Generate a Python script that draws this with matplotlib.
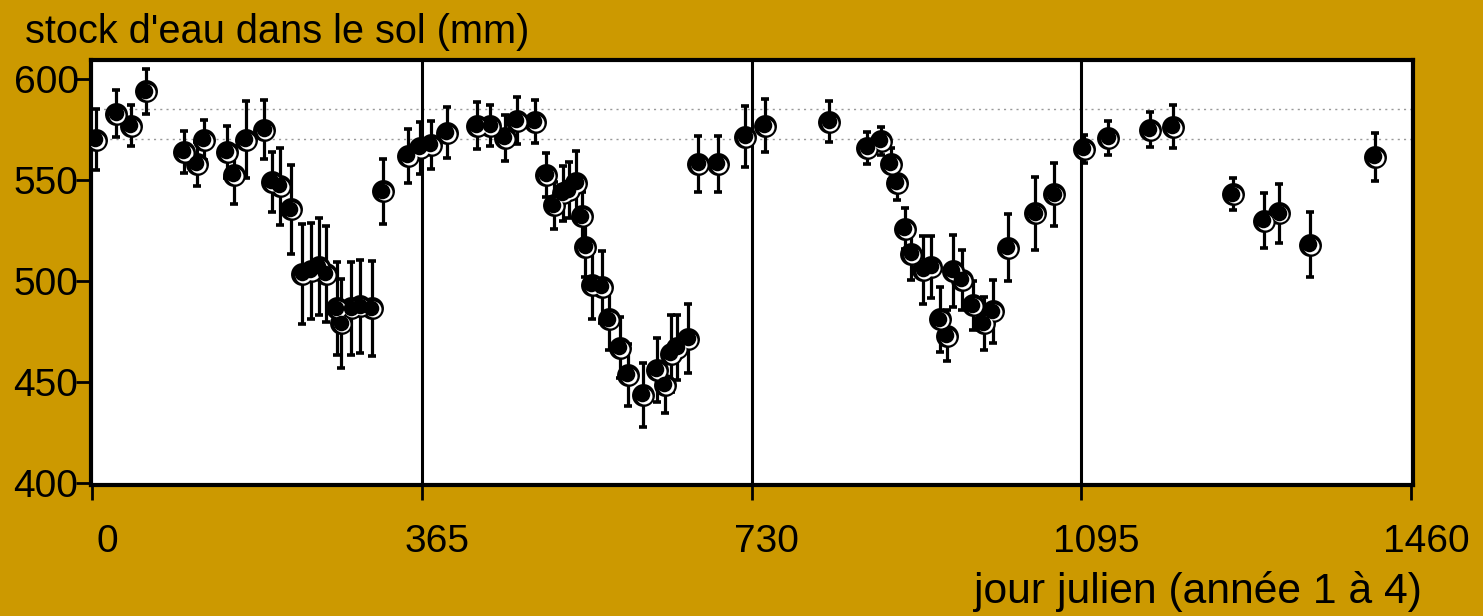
"""
Stock d'eau dans le sol sur quatre années (jour julien 0 à 1460).
"""

import matplotlib

matplotlib.use("Agg")
import matplotlib.pyplot as plt
import matplotlib.transforms as mtransforms

plt.rcParams["font.family"] = ["Liberation Sans", "DejaVu Sans"]

BG = "#cc9900"

# jour julien cumulé (années 1 à 4)
days = [
    4, 27, 43, 60, 102, 116, 124, 149, 157, 170, 191, 199, 208, 220, 233,
    242, 251, 259, 271, 276, 287, 297, 310, 322, 350, 363, 375, 393,
    426, 441, 457, 470, 490, 503, 511, 521, 528, 536, 542, 546, 553, 564,
    572, 584, 593, 610, 625, 634, 641, 648, 660, 671, 693, 723,
    745, 816, 858, 873, 884, 891, 900, 907, 920, 929, 938, 946, 953, 963,
    975, 987, 997, 1014, 1044, 1065,
    1098, 1125, 1171, 1196, 1263, 1297, 1314, 1348, 1420,
]
# stock d'eau (mm)
stock = [
    570, 583, 577, 594, 564, 558, 570, 564, 552.5, 570, 575, 549, 547, 535.5, 503.5,
    505, 507, 503.5, 486.5, 479, 486.5, 487.5, 486.5, 544.5, 562, 566, 567.5, 573.5,
    577, 577, 571, 579.5, 579, 552.5, 537.5, 543.5, 545, 548.5, 532, 517, 498, 497,
    481, 467, 453.5, 443.5, 456, 448.5, 464, 467, 471.5, 558, 558, 571.5,
    577, 579, 566, 569.5, 558, 548.5, 526, 513.5, 505.5, 507, 481, 473, 505, 500.5,
    488, 479, 485, 516.5, 533.5, 543,
    565.5, 571, 575, 576.5, 543, 530, 533.5, 518, 561.5,
]
# demi-largeur des barres d'erreur (mm)
erreur = [
    15, 11.5, 10, 11, 10.5, 11, 10, 13, 14.5, 19, 14.5, 15, 19, 22, 25,
    24, 24, 24, 23, 22, 23, 23, 23.5, 16, 13.5, 13, 12, 12.5,
    11.5, 10, 11.5, 11.5, 10.5, 11, 11.5, 13.5, 14, 16, 12, 15, 17, 18,
    15, 15, 15.5, 16, 16, 14, 19, 16, 17, 14, 14, 15,
    13, 10, 8, 7, 8, 8.5, 10, 13, 17, 15.5, 16, 12.5, 18, 15,
    12, 13, 15.5, 16.5, 18, 15.5,
    7, 8.5, 8.5, 10.5, 8, 13.5, 14.5, 16, 12,
]

year_bounds = [365, 730, 1095]
ref_levels = [585, 570.5]
xticks = [0, 365, 730, 1095, 1460]
yticks = [400, 450, 500, 550, 600]


def plot_stock() -> None:
    fig = plt.figure(figsize=(14.83, 6.16), dpi=100, facecolor=BG)
    ax = fig.add_axes([91 / 1483, 1 - 485 / 616, 1322 / 1483, 425 / 616])
    ax.set_facecolor("white")

    for lvl in ref_levels:
        ax.axhline(lvl, color="#999999", lw=1, ls=(0, (1.5, 3)), zorder=1)
    for b in year_bounds:
        ax.axvline(b, color="black", lw=2.2, zorder=2)

    ax.errorbar(
        days, stock, yerr=erreur, fmt="none", ecolor="black",
        elinewidth=2.3, capsize=2.8, capthick=2.6, zorder=3,
    )

    # marqueur "perle" : disque noir, croissant blanc, disque noir décalé
    ax.plot(days, stock, "o", ms=16.5, color="black", mec="black", mew=0, zorder=4)
    tr_w = mtransforms.offset_copy(ax.transData, fig=fig, x=1.0, y=-1.0, units="dots")
    ax.plot(days, stock, "o", ms=11.5, color="white", mec="white", mew=0,
            transform=tr_w, zorder=5)
    tr_b = mtransforms.offset_copy(ax.transData, fig=fig, x=-0.7, y=0.7, units="dots")
    ax.plot(days, stock, "o", ms=11.2, color="black", mec="black", mew=0,
            transform=tr_b, zorder=6)

    ax.set_xlim(-1, 1462)
    ax.set_ylim(399, 609.5)
    ax.set_xticks(xticks)
    ax.set_yticks(yticks)
    ax.tick_params(axis="both", labelsize=28, length=11, width=2, color="black")
    ax.tick_params(axis="x", pad=17)
    ax.tick_params(axis="y", pad=-2)
    shift = mtransforms.ScaledTranslation(15 / 100, 0, fig.dpi_scale_trans)
    for lab in ax.get_xticklabels():
        lab.set_transform(lab.get_transform() + shift)

    for sp in ax.spines.values():
        sp.set_linewidth(3)
        sp.set_color("black")

    fig.text(25 / 1483, 1 - 32 / 616, "stock d'eau dans le sol (mm)",
             fontsize=28.6, ha="left", va="center")
    fig.text(1422 / 1483, 1 - 592 / 616, "jour julien (année 1 à 4)",
             fontsize=30.7, ha="right", va="center")

    fig.savefig("out.png", dpi=100, facecolor=BG)


if __name__ == "__main__":
    plot_stock()
